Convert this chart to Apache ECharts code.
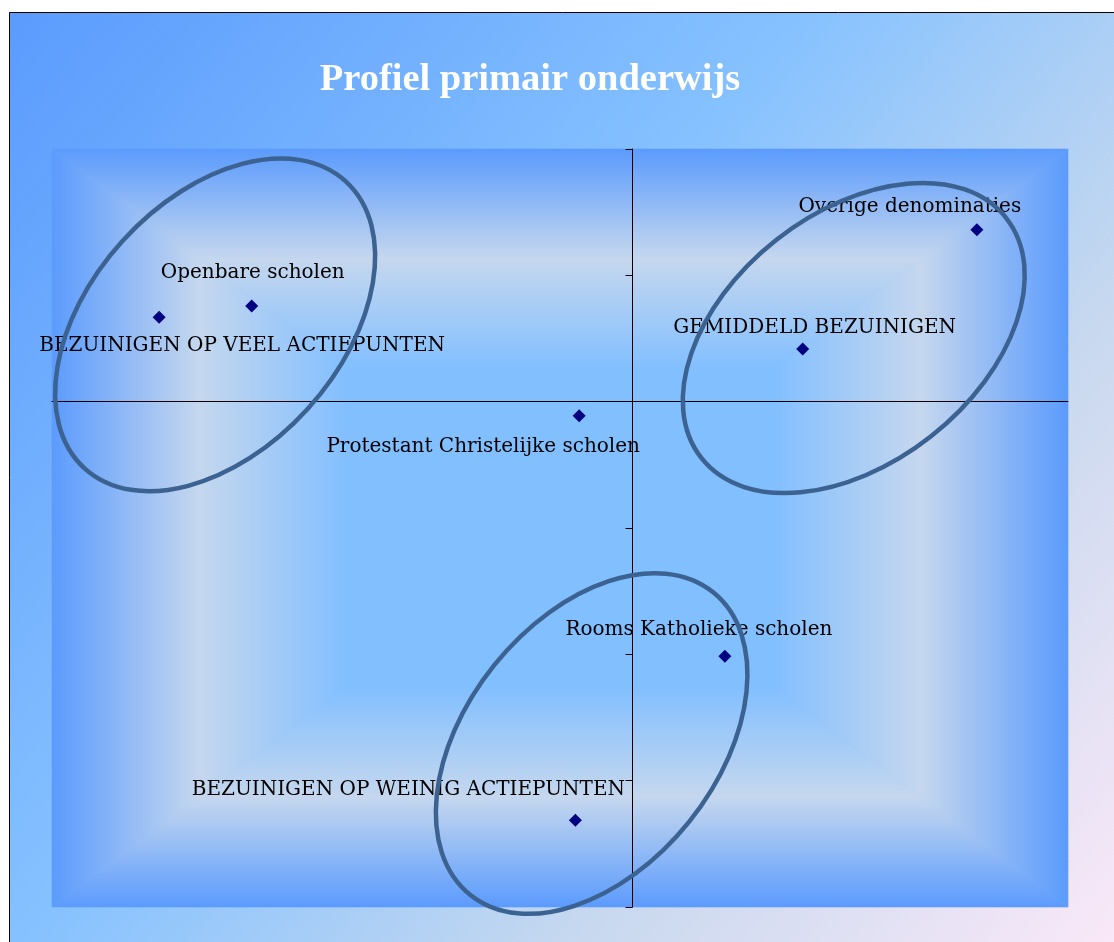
<!DOCTYPE html>
<html>
<head>
<meta charset="utf-8">
<script src="https://cdn.jsdelivr.net/npm/echarts@6/dist/echarts.min.js"></script>
<style>
  html, body { margin: 0; padding: 0; background: #fff; }
  #chart { width: 1114px; height: 942px; }
</style>
</head>
<body>
<div id="chart"></div>
<script>
// punten uit de grafiek
const categories = [
    'BEZUINIGEN OP VEEL ACTIEPUNTEN',
    'Openbare scholen',
    'Overige denominaties',
    'GEMIDDELD BEZUINIGEN',
    'Protestant Christelijke scholen',
    'Rooms Katholieke scholen',
    'BEZUINIGEN OP WEINIG ACTIEPUNTEN'
]
const xValues = [-1.631, -1.312, 1.186, 0.586, -0.184, 0.318, -0.197]
const yValues = [0.334, 0.379, 0.680, 0.208, -0.056, -1.008, -1.657]

// waar de labels staan t.o.v. het punt (px)
const labelOffsets = [[83, 29], [1, -33], [-67, -23], [12, -21], [-96, 31], [-26, -27], [-167, -31]]

// ellipsen: middelpunt in data-eenheden, hoek in graden
const ellipseCenters = [[-1.438, 0.304], [0.762, 0.252], [-0.141, -1.353]]
const ellipseAngles = [47.7, 38.2, 51.2]

const grid = {left: 52, top: 149, width: 1016, height: 758}

let chartDom = document.getElementById('chart')
let myChart = echarts.init(chartDom)

let points = []
for (let i = 0; i < categories.length; i++) {
    points.push({
        name: categories[i],
        value: [xValues[i], yValues[i]],
        label: {offset: labelOffsets[i]}
    })
}

const edge = '#5b9bfd', band = '#c5d7ee', mid = '#82bfff'
function grad(x, y, x2, y2) {
    return new echarts.graphic.LinearGradient(x, y, x2, y2, [
        {offset: 0, color: edge},
        {offset: 0.29, color: band},
        {offset: 0.58, color: mid},
        {offset: 1, color: mid}
    ])
}

const L = grid.left, T = grid.top, R = grid.left + grid.width, B = grid.top + grid.height
const CX = (L + R) / 2, CY = (T + B) / 2

function tri(pts, g) {
    return {type: 'polygon', z: -18, silent: true, shape: {points: pts},
        style: {fill: g, stroke: g, lineWidth: 0.6}}
}

let backgrounds = [
    {
        type: 'rect', z: -20, silent: true,
        shape: {x: 9.5, y: 12.5, width: 1120, height: 940},
        style: {
            fill: new echarts.graphic.LinearGradient(0, 0, 1, 1, [
                {offset: 0, color: '#5b9bfd'},
                {offset: 0.42, color: '#86c2ff'},
                {offset: 0.7, color: '#c6d8ef'},
                {offset: 1, color: '#fce9f8'}
            ]),
            stroke: '#000', lineWidth: 1
        }
    },
    {type: 'rect', z: -19, silent: true, shape: {x: L, y: T, width: grid.width, height: grid.height}, style: {fill: mid}},
    tri([[L, T], [CX, CY], [L, B]], grad(0, 0, 1, 0)),
    tri([[R, T], [CX, CY], [R, B]], grad(1, 0, 0, 0)),
    tri([[L, T], [CX, CY], [R, T]], grad(0, 0, 0, 1)),
    tri([[L, B], [CX, CY], [R, B]], grad(0, 1, 0, 0))
]

let option = {
    backgroundColor: '#fff',
    animation: false,
    title: {
        text: 'Profiel primair onderwijs',
        left: 525,
        top: 56,
        textAlign: 'center',
        textStyle: {
            fontFamily: 'Liberation Serif',
            fontWeight: 'bold',
            fontSize: 38.5,
            color: '#fff'
        }
    },
    grid: grid,
    xAxis: {
        type: 'value',
        min: -2,
        max: 1.5,
        axisLine: {onZero: true, lineStyle: {color: '#000', width: 1}},
        axisTick: {show: false},
        axisLabel: {show: false},
        splitLine: {show: false}
    },
    yAxis: {
        type: 'value',
        min: -2,
        max: 1,
        interval: 0.5,
        axisLine: {onZero: true, lineStyle: {color: '#000', width: 1}},
        axisTick: {show: true, length: 7, lineStyle: {color: '#000'}},
        axisLabel: {show: false},
        splitLine: {show: false}
    },
    series: [
        {
            type: 'scatter',
            symbol: 'diamond',
            symbolSize: 13,
            itemStyle: {color: '#000080', opacity: 1},
            data: points,
            label: {
                show: true,
                position: 'inside',
                formatter: '{b}',
                color: '#000',
                textBorderWidth: 0,
                fontFamily: 'DejaVu Serif',
                fontSize: 20,
                align: 'center',
                verticalAlign: 'middle'
            }
        }
    ],
    graphic: backgrounds
}

myChart.setOption(option)

// ellipsen tekenen nadat de assen bekend zijn
let ellipses = []
for (let i = 0; i < ellipseCenters.length; i++) {
    let p = myChart.convertToPixel({gridIndex: 0}, ellipseCenters[i])
    ellipses.push({
        type: 'ellipse', z: 50, silent: true,
        x: p[0], y: p[1],
        rotation: ellipseAngles[i] * Math.PI / 180,
        shape: {cx: 0, cy: 0, rx: 194, ry: 125},
        style: {fill: 'none', stroke: '#3b6291', lineWidth: 4.5}
    })
}
myChart.setOption({graphic: backgrounds.concat(ellipses)})
</script>
</body>
</html>
